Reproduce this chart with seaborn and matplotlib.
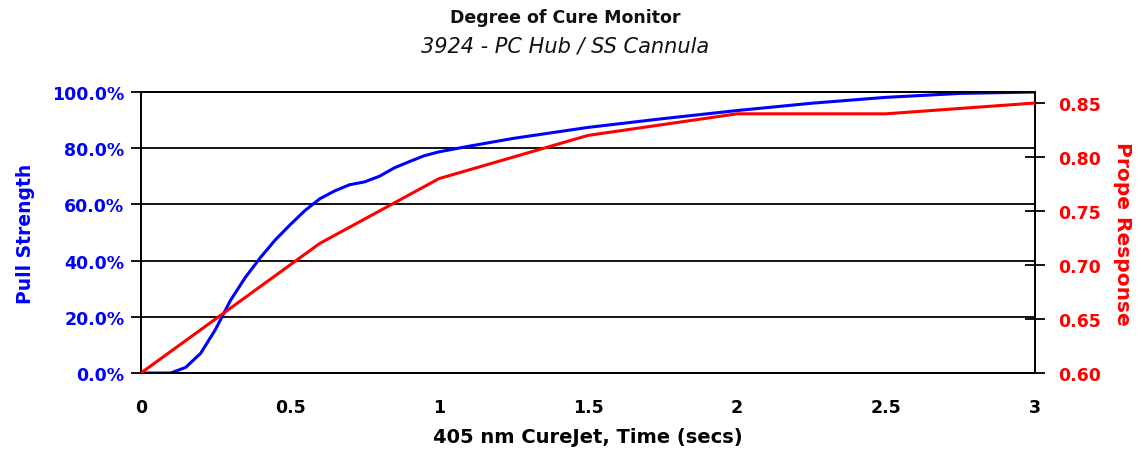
import matplotlib
matplotlib.use("Agg")
import matplotlib.pyplot as plt
import seaborn as sns
import pandas as pd
from matplotlib.ticker import FuncFormatter, FixedLocator

# ---- data ----
pull_time = [0.0, 0.1, 0.15, 0.2, 0.25, 0.3, 0.35, 0.4, 0.45, 0.5, 0.55, 0.6, 0.65,
             0.7, 0.75, 0.8, 0.85, 0.9, 0.95, 1.0, 1.1, 1.25, 1.5, 1.75, 2.0,
             2.25, 2.5, 2.75, 3.0]
pull_strength = [0.0, 0.0, 0.02, 0.07, 0.155, 0.258, 0.34, 0.41, 0.473, 0.527, 0.578,
                 0.62, 0.648, 0.67, 0.68, 0.70, 0.73, 0.752, 0.773, 0.787, 0.807,
                 0.835, 0.874, 0.905, 0.934, 0.96, 0.981, 0.995, 1.0]
probe_time = [0.0, 0.6, 1.0, 1.5, 2.0, 2.5, 3.0]
probe_response = [0.60, 0.72, 0.78, 0.82, 0.84, 0.84, 0.85]
x_ticks = [0, 0.5, 1, 1.5, 2, 2.5, 3]
x_tick_labels = ["0", "0.5", "1", "1.5", "2", "2.5", "3"]
left_ticks = [0.0, 0.2, 0.4, 0.6, 0.8, 1.0]
right_ticks = [0.60, 0.65, 0.70, 0.75, 0.80, 0.85]

title = "Degree of Cure Monitor"
subtitle = "3924 - PC Hub / SS Cannula"
x_label = "405 nm CureJet, Time (secs)"
left_label = "Pull Strength"
right_label = "Prope Response"

sns.set_style("white")
plt.rcParams["font.family"] = ["DejaVu Sans"]

BLUE = "#0000FF"
RED = "#FF0000"

fig = plt.figure(figsize=(11.41, 4.64), dpi=100)
ax = fig.add_axes([141 / 1141, 1 - 374 / 464, (1035 - 141) / 1141, (374 - 93) / 464])
ax2 = ax.twinx()

df_pull = pd.DataFrame({"t": pull_time, "v": pull_strength})
df_probe = pd.DataFrame({"t": probe_time, "v": probe_response})

sns.lineplot(data=df_pull, x="t", y="v", ax=ax, color=BLUE, linewidth=2.2, zorder=3)
sns.lineplot(data=df_probe, x="t", y="v", ax=ax2, color=RED, linewidth=2.2, zorder=3)

ax.set_xlim(0, 3)
ax.set_ylim(0, 1)
ax2.set_ylim(0.60, 0.8602)

ax.xaxis.set_major_locator(FixedLocator(x_ticks))
ax.set_xticklabels(x_tick_labels)
ax.yaxis.set_major_locator(FixedLocator(left_ticks))
ax.yaxis.set_major_formatter(FuncFormatter(lambda v, p: f"{v * 100:.1f}%"))
ax2.yaxis.set_major_locator(FixedLocator(right_ticks))
ax2.yaxis.set_major_formatter(FuncFormatter(lambda v, p: f"{v:.2f}"))

ax.grid(False)
ax2.grid(False)
for yv in left_ticks:
    ax.axhline(yv, color="black", linewidth=1.3, zorder=1)

for a in (ax, ax2):
    for s in a.spines.values():
        s.set_color("black")
        s.set_linewidth(1.3)

ax.tick_params(axis="x", direction="out", length=6, width=1.3, color="black",
               labelsize=12.5, labelcolor="black", pad=12)
ax.tick_params(axis="y", direction="out", length=7, width=1.3, color="black",
               labelsize=12.5, labelcolor=BLUE, pad=5)
ax2.tick_params(axis="y", direction="inout", length=14, width=1.3, color="black",
                labelsize=12.5, labelcolor=RED, pad=10)
for lab in ax.get_xticklabels() + ax.get_yticklabels() + ax2.get_yticklabels():
    lab.set_fontweight("bold")

ax.set_xlabel(x_label, fontsize=14, fontweight="bold", color="black", labelpad=8)
ax.set_ylabel(left_label, fontsize=13.5, fontweight="bold", color=BLUE, labelpad=12)
ax2.set_ylabel(right_label, fontsize=14.5, fontweight="bold", color=RED,
               rotation=270, labelpad=22)

fig.text(565 / 1141, 1 - 18 / 464, title, ha="center", va="center",
         fontsize=12.5, fontweight="bold", color="#111111")
fig.text(565 / 1141, 1 - 46 / 464, subtitle, ha="center", va="center",
         fontsize=15, style="italic", color="#111111")

fig.savefig("out.png", dpi=100)
